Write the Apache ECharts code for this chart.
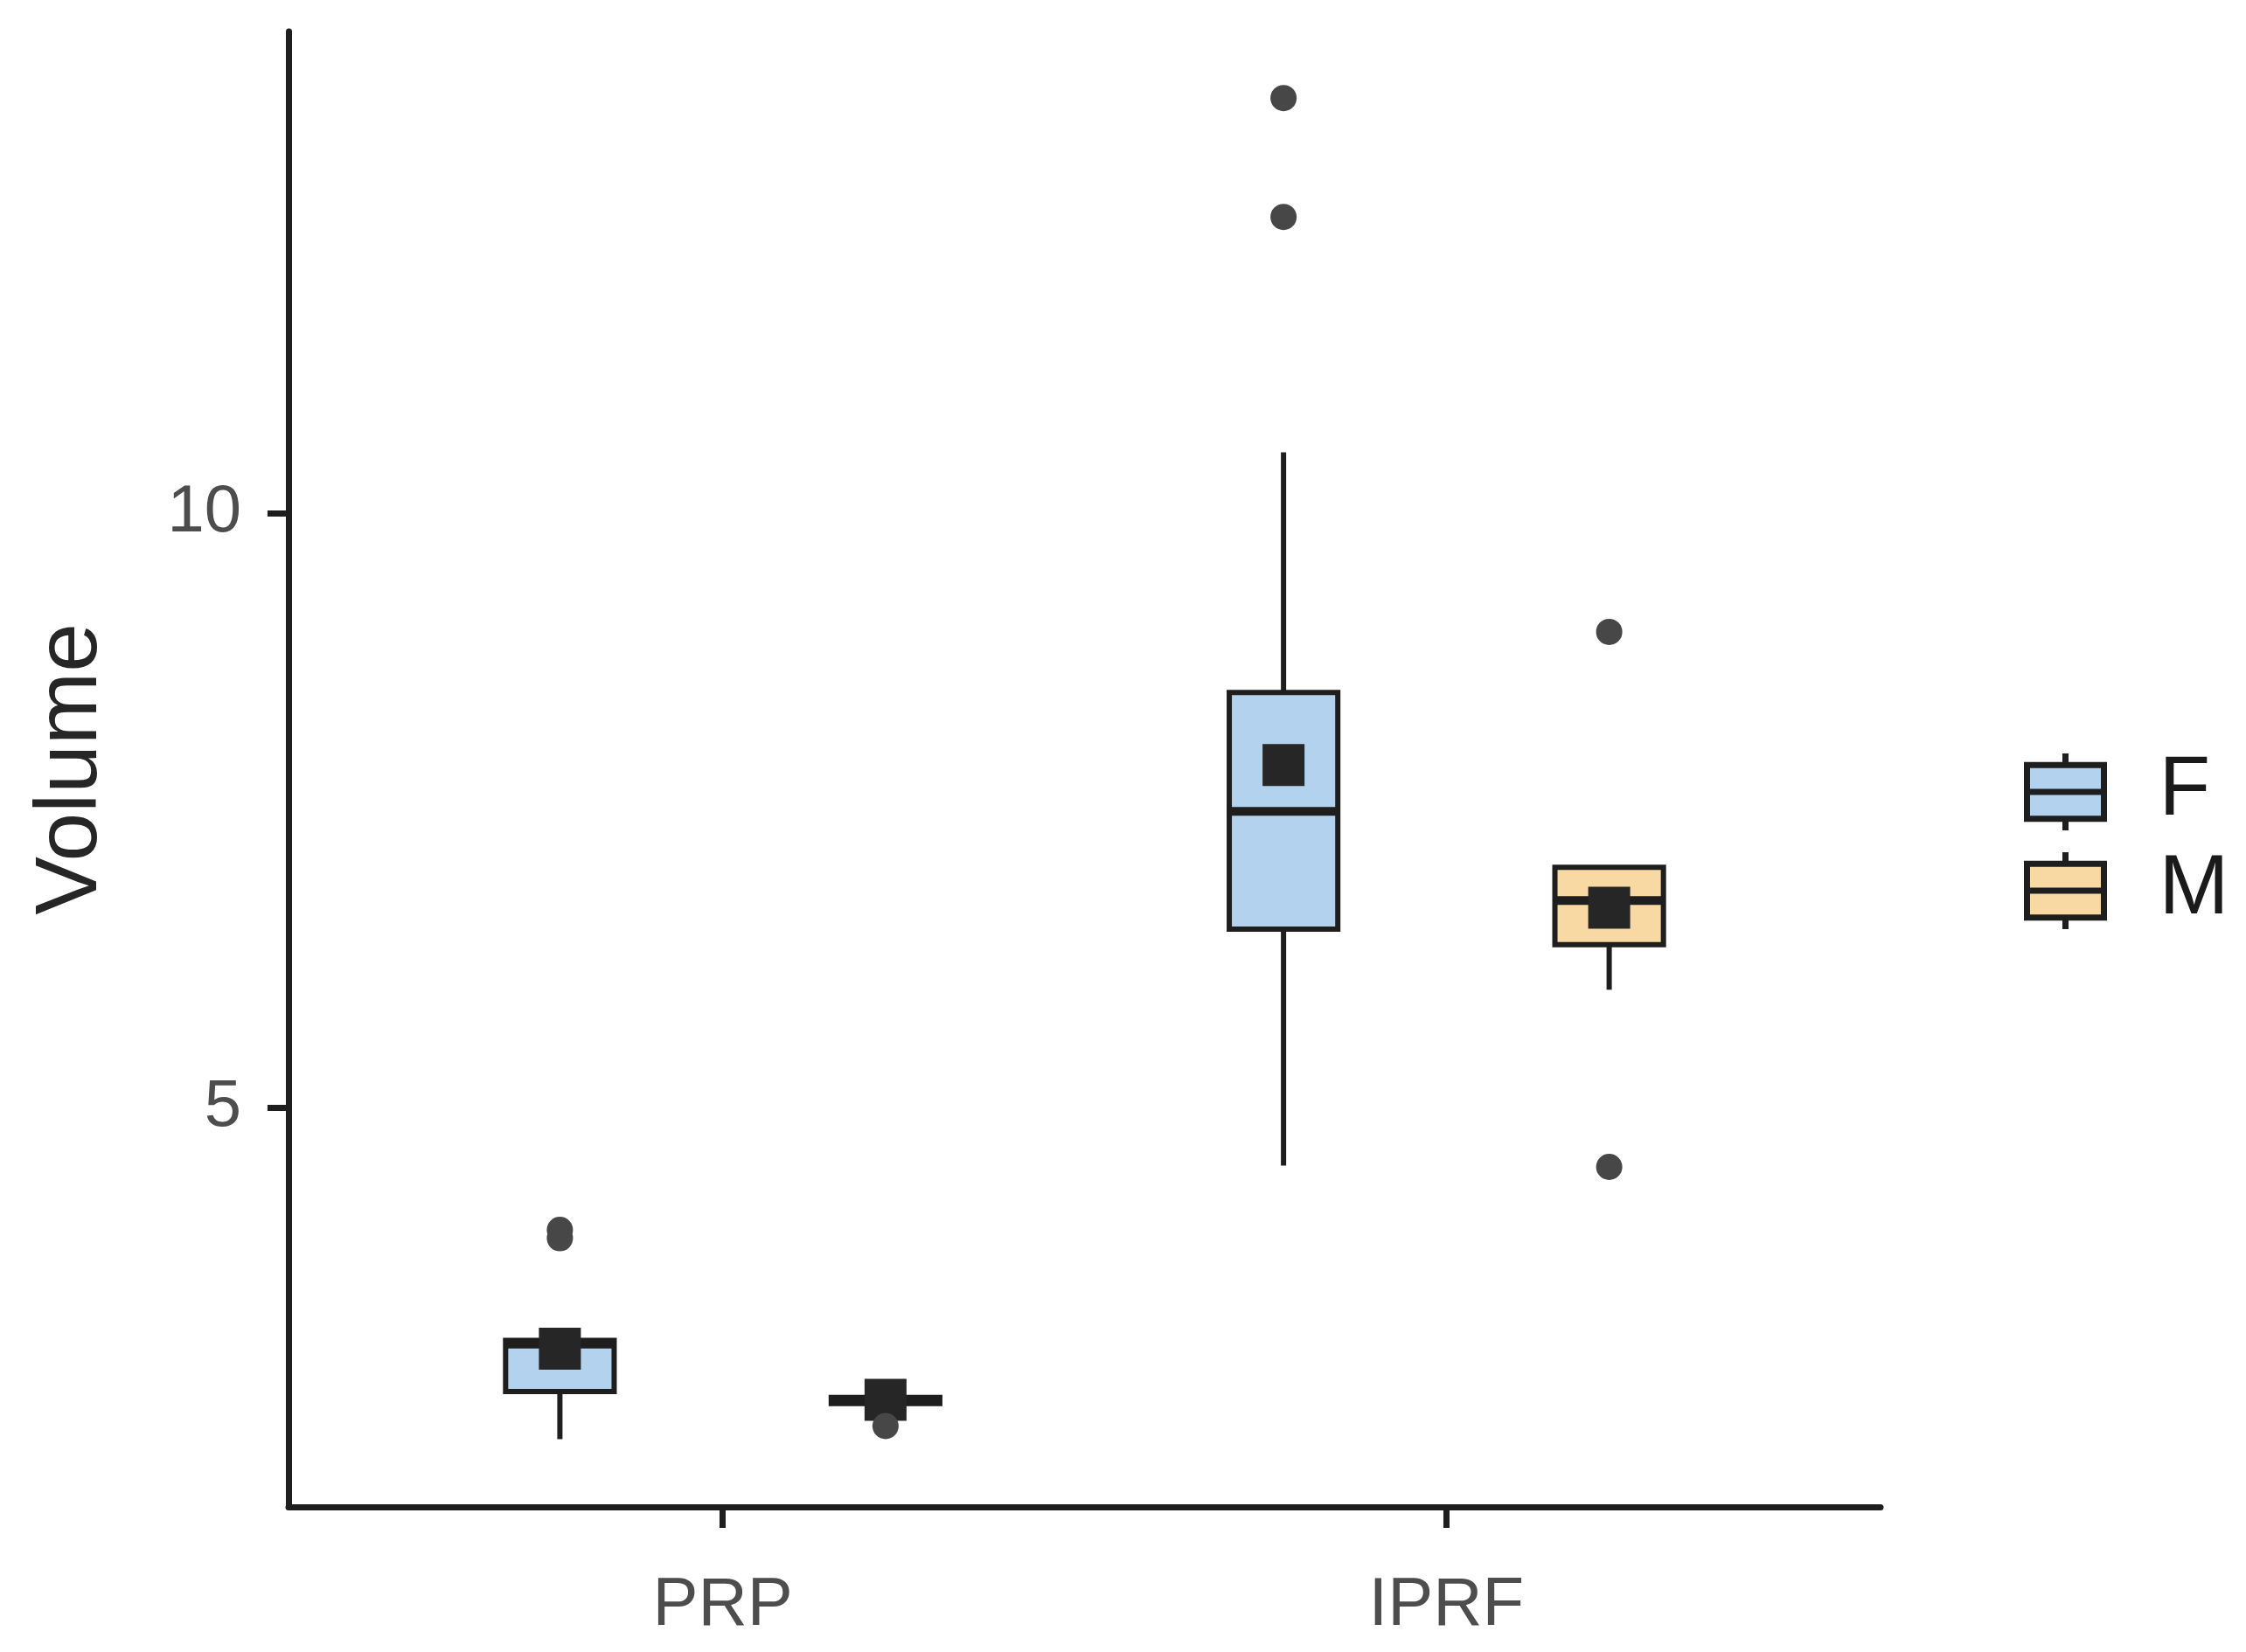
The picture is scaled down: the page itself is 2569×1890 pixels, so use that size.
<!DOCTYPE html>
<html>
<head>
<meta charset="utf-8">
<script src="https://cdn.jsdelivr.net/npm/echarts@6/dist/echarts.min.js"></script>
<style>html,body{margin:0;padding:0;background:#fff}#chart{width:2569px;height:1890px}</style>
</head>
<body>
<div id="chart"></div>
<script>
// ---- data ----
const categories = ['PRP', 'IPRF'];
const groups = ['F', 'M'];
const yTicks = [5, 10];

// F group, per category
const fMin    = [2.21, 4.51];
const fQ1     = [2.61, 6.50];
const fMedian = [3.01, 7.49];
const fQ3     = [3.04, 8.49];
const fMax    = [3.04, 10.51];
const fMean   = [2.97, 7.88];
const fOutPRP  = [3.97, 3.90];
const fOutIPRF = [12.49, 13.49];

// M group, per category
const mMin    = [2.51, 5.99];
const mQ1     = [2.51, 6.37];
const mMedian = [2.53, 6.74];
const mQ3     = [2.56, 7.02];
const mMax    = [2.56, 7.02];
const mMean   = [2.54, 6.68];
const mOutPRP  = [2.32];
const mOutIPRF = [9.0, 4.5];

// ---- styling ----
const fFill = '#B3D2EE';
const mFill = '#F8D8A3';
const ink = '#1e1e1e';
const DODGE = 0.225;   // group offset in axis units
const BOX_W = 0.15;    // box width in axis units
const LW = 6;

function boxData(mn, q1, md, q3, mx, mean) {
  return categories.map((c, i) => [i, mn[i], q1[i], md[i], q3[i], mx[i], mean[i]]);
}
function outData(prp, iprf) {
  return prp.map(v => [0, v]).concat(iprf.map(v => [1, v]));
}

function boxRender(offset, fill) {
  return function (params, api) {
    const x = api.value(0) + 1 + offset;
    const half = api.size([BOX_W, 0])[0] / 2;
    const pMin = api.coord([x, api.value(1)]);
    const pQ1 = api.coord([x, api.value(2)]);
    const pMed = api.coord([x, api.value(3)]);
    const pQ3 = api.coord([x, api.value(4)]);
    const pMax = api.coord([x, api.value(5)]);
    const pMean = api.coord([x, api.value(6)]);
    const cx = pQ1[0];
    const sq = 48;
    return {
      type: 'group',
      children: [
        { type: 'line', shape: { x1: cx, y1: pMin[1], x2: cx, y2: pQ1[1] }, style: { stroke: ink, lineWidth: LW } },
        { type: 'line', shape: { x1: cx, y1: pQ3[1], x2: cx, y2: pMax[1] }, style: { stroke: ink, lineWidth: LW } },
        { type: 'rect', shape: { x: cx - half, y: pQ3[1], width: half * 2, height: pQ1[1] - pQ3[1] },
          style: { fill: fill, stroke: ink, lineWidth: LW } },
        { type: 'line', shape: { x1: cx - half, y1: pMed[1], x2: cx + half, y2: pMed[1] }, style: { stroke: ink, lineWidth: 10 } },
        { type: 'rect', shape: { x: cx - sq / 2, y: pMean[1] - sq / 2, width: sq, height: sq }, style: { fill: '#262626' } }
      ]
    };
  };
}

function outRender(offset) {
  return function (params, api) {
    const p = api.coord([api.value(0) + 1 + offset, api.value(1)]);
    return { type: 'circle', shape: { cx: p[0], cy: p[1], r: 15 }, style: { fill: '#474747' } };
  };
}

const legendIcon = 'path://M0,15 H100 V85 H0 Z M0,50 H100 M50,0 V15 M50,85 V100';

const chart = echarts.init(document.getElementById('chart'), null, { renderer: 'canvas' });
chart.setOption({
  backgroundColor: '#ffffff',
  animation: false,
  textStyle: { fontFamily: 'Liberation Sans, Arial, sans-serif' },
  grid: { left: 330, right: 418, top: 36, bottom: 166, containLabel: false },
  legend: {
    orient: 'vertical',
    left: 2315,
    top: 858,
    itemGap: 17,
    itemWidth: 88,
    itemHeight: 90,
    padding: 0,
    textStyle: { fontSize: 96, color: '#1a1a1a', padding: [0, 0, 0, 58] },
    data: [
      { name: 'F', icon: legendIcon, itemStyle: { color: fFill, borderColor: ink, borderWidth: 7 } },
      { name: 'M', icon: legendIcon, itemStyle: { color: mFill, borderColor: ink, borderWidth: 7 } }
    ]
  },
  xAxis: {
    type: 'value',
    min: 0.4,
    max: 2.6,
    splitLine: { show: false },
    axisLine: { show: true, lineStyle: { color: ink, width: 7 } },
    axisTick: { show: true, customValues: [1, 2], length: 24, lineStyle: { color: ink, width: 7 } },
    axisLabel: {
      customValues: [1, 2], margin: 74, fontSize: 78, color: '#4d4d4d',
      formatter: v => categories[Math.round(v) - 1] || ''
    }
  },
  yAxis: {
    type: 'value',
    min: 1.64,
    max: 14.05,
    name: 'Volume',
    nameLocation: 'middle',
    nameGap: 198,
    nameTextStyle: { fontSize: 100, color: '#262626' },
    splitLine: { show: false },
    axisLine: { show: true, lineStyle: { color: ink, width: 7 } },
    axisTick: { show: true, customValues: yTicks, length: 24, lineStyle: { color: ink, width: 7 } },
    axisLabel: { customValues: yTicks, margin: 54, fontSize: 76, color: '#4d4d4d' }
  },
  series: [
    { name: 'F', type: 'custom', itemStyle: { color: fFill }, renderItem: boxRender(-DODGE, fFill),
      encode: { x: 0, y: [1, 2, 3, 4, 5, 6] }, data: boxData(fMin, fQ1, fMedian, fQ3, fMax, fMean), z: 2 },
    { name: 'M', type: 'custom', itemStyle: { color: mFill }, renderItem: boxRender(DODGE, mFill),
      encode: { x: 0, y: [1, 2, 3, 4, 5, 6] }, data: boxData(mMin, mQ1, mMedian, mQ3, mMax, mMean), z: 2 },
    { name: 'F outliers', type: 'custom', renderItem: outRender(-DODGE),
      encode: { x: 0, y: 1 }, data: outData(fOutPRP, fOutIPRF), z: 3 },
    { name: 'M outliers', type: 'custom', renderItem: outRender(DODGE),
      encode: { x: 0, y: 1 }, data: outData(mOutPRP, mOutIPRF), z: 3 }
  ]
});
</script>
</body>
</html>
